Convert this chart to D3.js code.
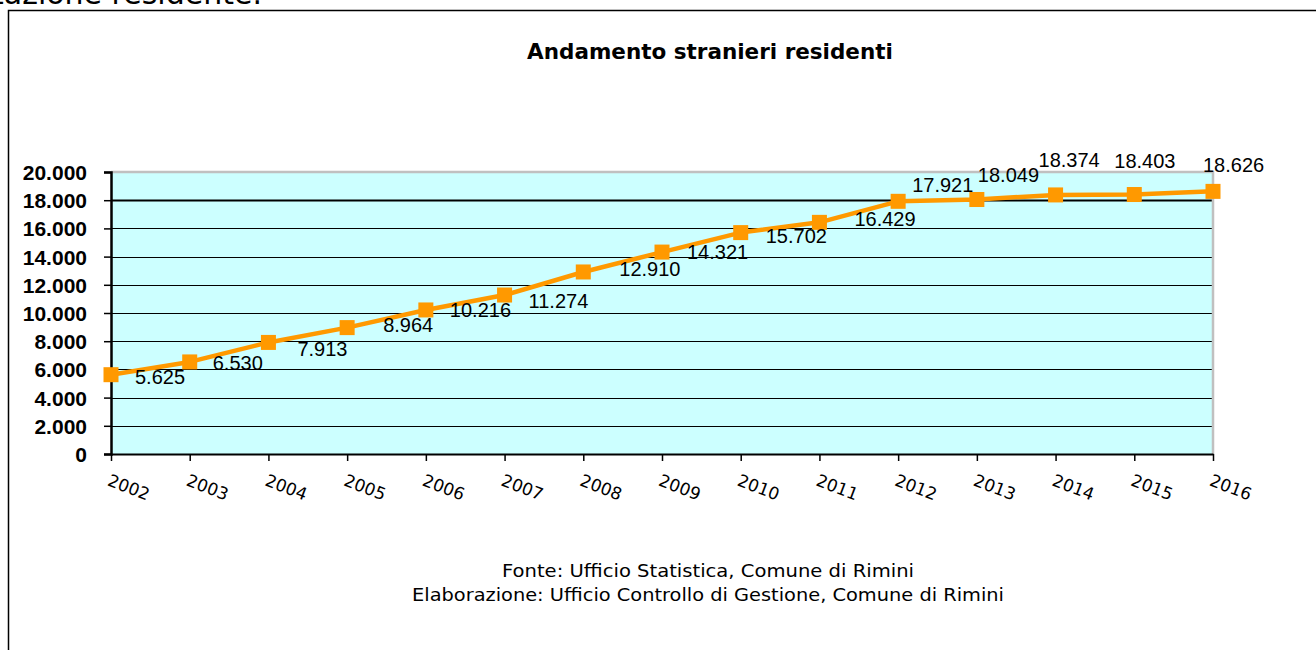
<!DOCTYPE html>
<html>
<head>
<meta charset="utf-8">
<script src="https://cdn.jsdelivr.net/npm/d3@7"></script>
<style>
  html, body { margin: 0; padding: 0; background: #fff; }
  svg { display: block; }
</style>
</head>
<body>
<svg id="chart" width="1316" height="650"></svg>
<script>
// ---- data ----
const years = ["2002","2003","2004","2005","2006","2007","2008","2009","2010","2011","2012","2013","2014","2015","2016"];
const residents = [5625, 6530, 7913, 8964, 10216, 11274, 12910, 14321, 15702, 16429, 17921, 18049, 18374, 18403, 18626];
const yTicks = [0, 2000, 4000, 6000, 8000, 10000, 12000, 14000, 16000, 18000, 20000];
const title = "Andamento stranieri residenti";
const footer = ["Fonte: Ufficio Statistica, Comune di Rimini",
                "Elaborazione: Ufficio Controllo di Gestione, Comune di Rimini"];
const headerFragment = "tazione residente.";

// ---- layout (label nudges: left edge dx, vertical-centre dy from the point) ----
const labelNudge = [[24,2],[23,1],[29,7],[36,-3],[24,0],[24,6],[36,-3],[25,0],[25,3],[35,-3],[14,-16],[1,-25],[-17,-35],[-20,-34],[-10,-26]];

const svg = d3.select("#chart");
const X0 = 111, X1 = 1213, Y0 = 454, Y1 = 172;
const x = d3.scalePoint().domain(years).range([X0, X1]);
const y = d3.scaleLinear().domain([0, 20000]).range([Y0, Y1]);
const it = d3.formatLocale({decimal: ",", thousands: ".", grouping: [3], currency: ["", " €"]});
const fmt = it.format(",d");

// header fragment cut off at top (as in the reference)
svg.append("text").attr("x", -8).attr("y", 4)
  .attr("font-family", "DejaVu Sans").attr("font-size", 30).attr("fill", "#000")
  .text(headerFragment);

// chart frame (left and top edges visible)
svg.append("path").attr("d", "M8.5,650 L8.5,10.5 L1316,10.5")
  .attr("fill", "none").attr("stroke", "#000").attr("stroke-width", 1.5);

// title
svg.append("text").attr("x", 710).attr("y", 59).attr("text-anchor", "middle")
  .attr("font-family", "DejaVu Sans").attr("font-weight", "bold").attr("font-size", 21.5)
  .text(title);

// plot background
svg.append("rect").attr("x", X0).attr("y", Y1).attr("width", X1 - X0).attr("height", Y0 - Y1)
  .attr("fill", "#CCFFFF");

// gridlines
svg.append("g").selectAll("line").data(yTicks.filter(v => v > 0 && v < 20000)).join("line")
  .attr("x1", X0).attr("x2", X1)
  .attr("y1", d => Math.round(y(d)) + 0.5).attr("y2", d => Math.round(y(d)) + 0.5)
  .attr("stroke", "#000").attr("stroke-width", d => d === 18000 ? 2 : 1);

// plot border top and right (grey)
svg.append("path").attr("d", `M${X0},${Y1} L${X1},${Y1} L${X1},${Y0}`)
  .attr("fill", "none").attr("stroke", "#C0C0C0").attr("stroke-width", 2.5);

// y axis
const yAxis = svg.append("g").attr("transform", `translate(${X0},0)`)
  .call(d3.axisLeft(y).tickValues(yTicks).tickFormat(fmt).tickSize(7).tickPadding(17));
yAxis.select(".domain").attr("stroke", "#000").attr("stroke-width", 2.5);
yAxis.selectAll(".tick line").attr("stroke", "#000").attr("stroke-width", 1.5);
yAxis.selectAll(".tick text").attr("font-family", "Liberation Sans").attr("font-weight", "bold")
  .attr("font-size", 21).attr("fill", "#000").attr("dy", "0.36em");

// x axis
const xAxis = svg.append("g").attr("transform", `translate(0,${Y0})`)
  .call(d3.axisBottom(x).tickSize(7).tickSizeOuter(0));
xAxis.select(".domain").attr("stroke", "#000").attr("stroke-width", 2);
xAxis.selectAll(".tick line").attr("stroke", "#000").attr("stroke-width", 1.5);
xAxis.selectAll(".tick text")
  .attr("font-family", "DejaVu Sans").attr("font-size", 17).attr("fill", "#000")
  .attr("text-anchor", "start").attr("x", null).attr("y", null).attr("dy", null)
  .attr("transform", "translate(-5,31) rotate(21)");

// line
const pts = years.map((yr, i) => [x(yr), y(residents[i])]);
svg.append("path").datum(pts).attr("d", d3.line())
  .attr("fill", "none").attr("stroke", "#FF9900").attr("stroke-width", 4.5).attr("stroke-linejoin", "round");

// markers
const M = 15;
svg.append("g").selectAll("rect").data(pts).join("rect")
  .attr("x", d => d[0] - M / 2).attr("y", d => d[1] - M / 2).attr("width", M).attr("height", M)
  .attr("fill", "#FF9900");

// data labels
svg.append("g").selectAll("text").data(residents).join("text")
  .attr("x", (d, i) => pts[i][0] + labelNudge[i][0])
  .attr("y", (d, i) => pts[i][1] + labelNudge[i][1] + 7)
  .attr("font-family", "Liberation Sans").attr("font-size", 20).attr("fill", "#000")
  .text(d => fmt(d));

// footer
svg.append("g").selectAll("text").data(footer).join("text")
  .attr("x", 708).attr("y", (d, i) => 577 + i * 24).attr("text-anchor", "middle")
  .attr("font-family", "DejaVu Sans").attr("font-size", 18).attr("fill", "#000")
  .attr("textLength", (d, i) => i === 0 ? 412 : 592).attr("lengthAdjust", "spacingAndGlyphs")
  .text(d => d);
</script>
</body>
</html>
